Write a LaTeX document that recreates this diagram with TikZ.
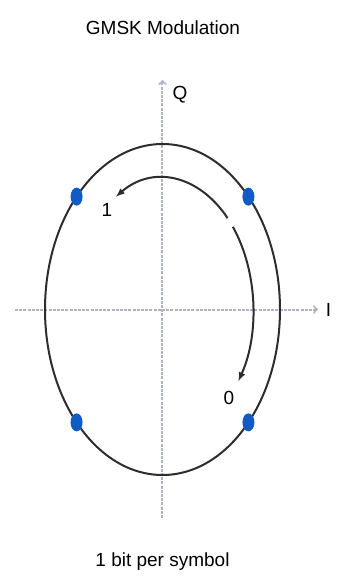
\documentclass[tikz,border=0pt]{standalone}
\usepackage{fontspec}
\setmainfont{Liberation Sans}
\usetikzlibrary{arrows,shapes.geometric}
\definecolor{axisgrey}{RGB}{176,178,200}
\definecolor{dotblue}{RGB}{16,92,196}
\definecolor{curvegrey}{RGB}{45,45,45}

\begin{document}
\begin{tikzpicture}[x=1pt,y=1pt,
  axisline/.style={axisgrey, line width=2pt, dash pattern=on 3pt off 1.2pt, -to},
  orbit/.style={curvegrey, line width=2pt},
  sym/.style={ellipse, fill=dotblue, inner sep=0pt, minimum width=12pt, minimum height=18pt},
  lbl/.style={font=\fontsize{19}{22}\selectfont, inner sep=0pt}]
\useasboundingbox (-162.5,-266.5) rectangle (175.5,309.5);

\node[lbl] (title) at (0.5,281.5) {GMSK Modulation};
\node[lbl] (rate) at (0,-252.5) {1 bit per symbol};

% axes
\coordinate (qlow) at (0,-208.5);
\coordinate (qtop) at (0,229.5);
\coordinate (ileft) at (-147.5,0);
\coordinate (iright) at (155.5,0);
\draw[axisline] (qlow) -- (qtop);
\draw[axisline] (ileft) -- (iright);
\node[lbl] (qlabel) at (17.5,214.5) {Q};
\node[lbl] (ilabel) at (166,0) {I};

% outer trajectory and symbols
\node[draw, orbit, ellipse, minimum width=235pt, minimum height=331pt, inner sep=0pt] (path) at (0,0) {};
\node[sym] (s1) at (43:117.5 and 165.5) {};
\node[sym] (s2) at (137:117.5 and 165.5) {};
\node[sym] (s3) at (223:117.5 and 165.5) {};
\node[sym] (s4) at (317:117.5 and 165.5) {};

% phase rotation for 1 and 0
\coordinate (one) at (44:90.5 and 131.5);
\coordinate (zero) at (39:90.5 and 131.5);
\draw[orbit, -latex] (one) arc[start angle=44, end angle=121, x radius=90.5, y radius=131.5];
\draw[orbit, -latex] (zero) arc[start angle=39, end angle=-33, x radius=90.5, y radius=131.5];
\node[lbl] (bitone) at (-55.5,99.5) {1};
\node[lbl] (bitzero) at (66.5,-88.5) {0};

\end{tikzpicture}
\end{document}
